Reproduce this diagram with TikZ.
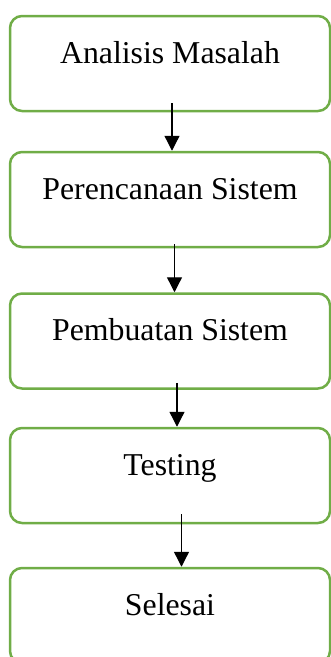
\documentclass[tikz,border=0pt]{standalone}
\usepackage{fontspec}
\setmainfont{Liberation Serif}
\usetikzlibrary{positioning,arrows.meta}
\definecolor{boxgreen}{RGB}{112,173,71}

\begin{document}
\begin{tikzpicture}[x=1pt,y=1pt,node distance=138pt,on grid,
	tahap/.style={draw=boxgreen,line width=2.5pt,rounded corners=12pt,minimum width=320pt,
		inner sep=0pt,text height=47pt,text depth=48pt,font=\fontsize{31.8}{38}\selectfont},
	panah/.style={-{Triangle[width=15pt,length=15pt]},line width=1.3pt}]
			\useasboundingbox (0,0) rectangle (331,-657);
			\node[tahap] (analisis) at (170,-63.5) {Analisis Masalah};
			\node[tahap] (perencanaan) [below=136pt of analisis] {Perencanaan Sistem};
			\node[tahap] (pembuatan) [below=141.5pt of perencanaan] {Pembuatan Sistem};
			\node[tahap] (testing) [below=134.5pt of pembuatan] {Testing};
			\node[tahap] (selesai) [below=140pt of testing] {Selesai};
			% panah antar tahap
			\draw[panah] ([xshift=2pt,yshift=9pt]analisis.south) -- ([xshift=2pt]perencanaan.north);
			\draw[panah] ([xshift=4.5pt,yshift=4pt]perencanaan.south) -- ([xshift=4.5pt]pembuatan.north);
			\draw[panah] ([xshift=7pt,yshift=7pt]pembuatan.south) -- ([xshift=7pt]testing.north);
			\draw[panah] ([xshift=11.5pt,yshift=10pt]testing.south) -- ([xshift=11.5pt]selesai.north);
		\end{tikzpicture}
\end{document}
